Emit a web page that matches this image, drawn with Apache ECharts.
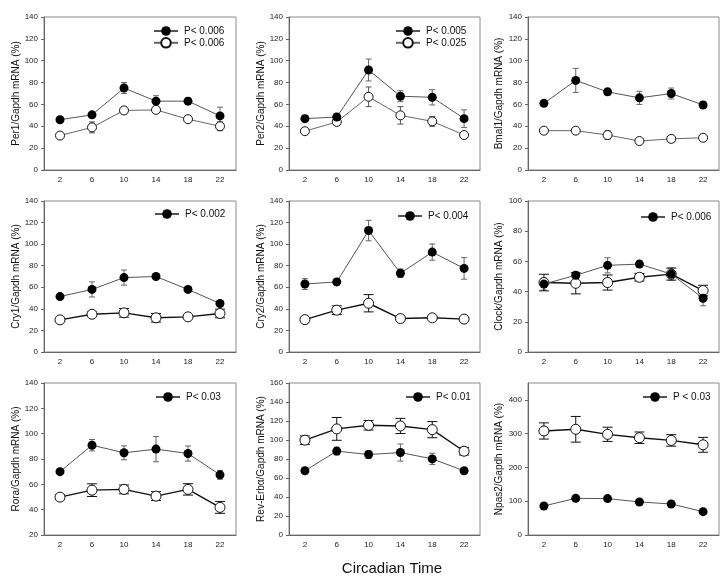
<!DOCTYPE html>
<html>
<head>
<meta charset="utf-8">
<script src="https://cdn.jsdelivr.net/npm/echarts@6/dist/echarts.min.js"></script>
<style>
html,body{margin:0;padding:0;background:#fff;}
#main{width:728px;height:581px;}
</style>
</head>
<body>
<div id="main"></div>
<script>
// ---------- DATA ----------
const categories = ['2', '6', '10', '14', '18', '22'];

const per1Filled = [46, 50.5, 75, 63, 63, 49.5];
const per1FilledErr = [1, 2, 5, 5, 3, 8];
const per1Open = [31.5, 39, 54.5, 55, 46.5, 40];
const per1OpenErr = [1, 5, 3, 3, 3, 4];

const per2Filled = [47, 48.5, 91.5, 67.5, 66.5, 47];
const per2FilledErr = [3, 3, 10, 5, 7, 8];
const per2Open = [35.5, 44, 67, 50, 44.5, 32];
const per2OpenErr = [1, 3, 9, 8, 4.5, 3];

const bmal1Filled = [61, 82, 71.5, 66, 70, 59.5];
const bmal1FilledErr = [1.5, 11, 3, 6, 5, 3];
const bmal1Open = [36, 36, 32, 26.5, 28.5, 29.5];
const bmal1OpenErr = [1, 1, 4, 1, 3, 1];

const cry1Filled = [51.4, 58, 69, 70, 58, 45];
const cry1FilledErr = [1, 7, 7, 1, 1, 1];
const cry1Open = [29.8, 35, 36.3, 31.7, 32.6, 35.7];
const cry1OpenErr = [1, 2, 4, 4, 1, 4];

const cry2Filled = [63, 65, 112.6, 73, 92.6, 77.5];
const cry2FilledErr = [5, 3, 9.5, 4, 7.5, 10];
const cry2Open = [30, 38.8, 45.2, 31, 31.7, 30.5];
const cry2OpenErr = [1, 4, 8, 1, 1.5, 1];

const clockFilled = [45, 50.8, 57.4, 58.2, 51.6, 35.6];
const clockFilledErr = [4, 2, 5, 2, 4, 5];
const clockOpen = [46, 45.5, 46, 49.5, 51.6, 40.7];
const clockOpenErr = [5.5, 7, 5, 2.5, 4, 3.5];

const roraFilled = [70, 90.9, 84.9, 87.8, 84.3, 67.5];
const roraFilledErr = [1, 4.5, 5.5, 10, 6, 3.5];
const roraOpen = [49.9, 55.4, 56, 50.7, 56, 41.8];
const roraOpenErr = [2, 5, 3.5, 3.5, 4.5, 4.7];

const revFilled = [67.6, 88.3, 84.7, 86.8, 80.1, 67.6];
const revFilledErr = [1, 4, 4, 9, 6, 1];
const revOpen = [99.8, 111.7, 115.5, 114.8, 110.9, 88.2];
const revOpenErr = [4.5, 12, 5, 8, 8.5, 4];

const npas2Filled = [86, 108.6, 107.7, 97.8, 91.9, 69.1];
const npas2FilledErr = [3, 6, 3, 3, 3, 3];
const npas2Open = [308, 313, 298, 288, 280, 267];
const npas2OpenErr = [24, 38, 21, 17, 17, 22];

const yAxisNames = ['Per1/Gapdh mRNA (%)', 'Per2/Gapdh mRNA (%)', 'Bmal1/Gapdh mRNA (%)',
  'Cry1/Gapdh mRNA (%)', 'Cry2/Gapdh mRNA (%)', 'Clock/Gapdh mRNA (%)',
  'Rora/Gapdh mRNA (%)', 'Rev-Erbα/Gapdh mRNA (%)', 'Npas2/Gapdh mRNA (%)'];
const yMins = [0, 0, 0, 0, 0, 0, 20, 0, 0];
const yMaxs = [140, 140, 140, 140, 140, 100, 140, 160, 450];
const yIntervals = [20, 20, 20, 20, 20, 20, 20, 20, 100];
const filledLabels = ['P< 0.006', 'P< 0.005', null, 'P< 0.002', 'P< 0.004', 'P< 0.006', 'P< 0.03', 'P< 0.01', 'P < 0.03'];
const openLabels = ['P< 0.006', 'P< 0.025', null, null, null, null, null, null, null];
const xTitle = 'Circadian Time';

const filledSets = [per1Filled, per2Filled, bmal1Filled, cry1Filled, cry2Filled, clockFilled, roraFilled, revFilled, npas2Filled];
const filledErrs = [per1FilledErr, per2FilledErr, bmal1FilledErr, cry1FilledErr, cry2FilledErr, clockFilledErr, roraFilledErr, revFilledErr, npas2FilledErr];
const openSets = [per1Open, per2Open, bmal1Open, cry1Open, cry2Open, clockOpen, roraOpen, revOpen, npas2Open];
const openErrs = [per1OpenErr, per2OpenErr, bmal1OpenErr, cry1OpenErr, cry2OpenErr, clockOpenErr, roraOpenErr, revOpenErr, npas2OpenErr];

// ---------- LAYOUT ----------
const colLeft = [44, 289, 528];
const colWidth = [192, 191, 191];
const rowTop = [17, 201, 383];
const rowHeight = [153, 151, 152];
const nameGaps = [17, 21, 24];
const legendPos = [[153, 26], [395, 26], null, [154, 209], [397, 211], [640, 212], [155, 392], [405, 392], [642, 392]];
const FONT = '"Liberation Sans", Arial, sans-serif';

function errRenderer(color, cap) {
  return function (params, api) {
    const x = api.value(0);
    const lo = api.coord([x, api.value(1)]);
    const hi = api.coord([x, api.value(2)]);
    const st = { stroke: color, lineWidth: 1 };
    return {
      type: 'group',
      children: [
        { type: 'line', shape: { x1: lo[0], y1: lo[1], x2: hi[0], y2: hi[1] }, style: st },
        { type: 'line', shape: { x1: lo[0] - cap, y1: lo[1], x2: lo[0] + cap, y2: lo[1] }, style: st },
        { type: 'line', shape: { x1: hi[0] - cap, y1: hi[1], x2: hi[0] + cap, y2: hi[1] }, style: st }
      ]
    };
  };
}

const grids = [], xAxes = [], yAxes = [], series = [], legends = [];
const labelMap = {};

for (let i = 0; i < 9; i++) {
  const r = Math.floor(i / 3), c = i % 3;
  grids.push({ left: colLeft[c], top: rowTop[r], width: colWidth[c], height: rowHeight[r],
    show: true, borderColor: '#8a8a8a', borderWidth: 1, backgroundColor: 'transparent' });
  xAxes.push({
    type: 'category', gridIndex: i, data: categories, boundaryGap: true,
    axisLine: { lineStyle: { color: '#666', width: 1 } },
    axisTick: { alignWithLabel: true, length: 3, lineStyle: { color: '#666' } },
    axisLabel: { color: '#222', fontSize: 8, fontFamily: FONT, margin: 6 },
    splitLine: { show: false }
  });
  yAxes.push({
    type: 'value', gridIndex: i, min: yMins[i], max: yMaxs[i], interval: yIntervals[i],
    name: yAxisNames[i], nameLocation: 'middle', nameGap: nameGaps[c],
    nameTextStyle: { color: '#111', fontSize: 10, fontFamily: FONT },
    axisLine: { show: true, lineStyle: { color: '#666', width: 1 } },
    axisTick: { show: true, length: 3, lineStyle: { color: '#666' } },
    axisLabel: { color: '#222', fontSize: 8, fontFamily: FONT, margin: 6, showMaxLabel: yMaxs[i] % yIntervals[i] === 0 },
    splitLine: { show: false }
  });
  const fName = 'filled' + i, oName = 'open' + i;
  const thinOpen = r === 0;
  series.push({
    type: 'custom', xAxisIndex: i, yAxisIndex: i, z: 1, silent: true,
    renderItem: errRenderer('#666', 3),
    data: filledSets[i].map((v, k) => [k, v - filledErrs[i][k], v + filledErrs[i][k]]),
    encode: { x: 0, y: [1, 2] }
  });
  series.push({
    type: 'custom', xAxisIndex: i, yAxisIndex: i, z: 1, silent: true,
    renderItem: errRenderer(thinOpen ? '#555' : '#111', thinOpen ? 3 : 5),
    data: openSets[i].map((v, k) => [k, v - openErrs[i][k], v + openErrs[i][k]]),
    encode: { x: 0, y: [1, 2] }
  });
  series.push({
    name: oName, type: 'line', xAxisIndex: i, yAxisIndex: i, z: 3,
    data: openSets[i], symbol: 'circle', symbolSize: thinOpen ? 9 : 10,
    lineStyle: { color: thinOpen ? '#666' : '#111', width: thinOpen ? 1 : 1.4 },
    itemStyle: { color: '#fff', borderColor: '#111', borderWidth: 1 },
    animation: false
  });
  series.push({
    name: fName, type: 'line', xAxisIndex: i, yAxisIndex: i, z: 4,
    data: filledSets[i], symbol: 'circle', symbolSize: 9,
    lineStyle: { color: '#555', width: 1 },
    itemStyle: { color: '#000', borderColor: '#000', borderWidth: 0 },
    animation: false
  });
  if (legendPos[i]) {
    const names = [];
    if (filledLabels[i]) { names.push(fName); labelMap[fName] = filledLabels[i]; }
    if (openLabels[i]) { names.push(oName); labelMap[oName] = openLabels[i]; }
    legends.push({
      data: names, orient: 'vertical', left: legendPos[i][0], top: legendPos[i][1],
      padding: 0, itemGap: 1, itemWidth: 24, itemHeight: 12, selectedMode: false,
      formatter: n => labelMap[n],
      textStyle: { color: '#111', fontSize: 10, fontFamily: FONT, padding: [0, 0, 0, 1] }
    });
  }
}

const chart = echarts.init(document.getElementById('main'), null, { renderer: 'canvas' });
chart.setOption({
  animation: false,
  backgroundColor: '#fff',
  title: { text: xTitle, left: 387, top: 556, textAlign: 'center',
    textStyle: { color: '#111', fontSize: 15, fontWeight: 'normal', fontFamily: FONT } },
  grid: grids, xAxis: xAxes, yAxis: yAxes, legend: legends, series: series
});
</script>
</body>
</html>
